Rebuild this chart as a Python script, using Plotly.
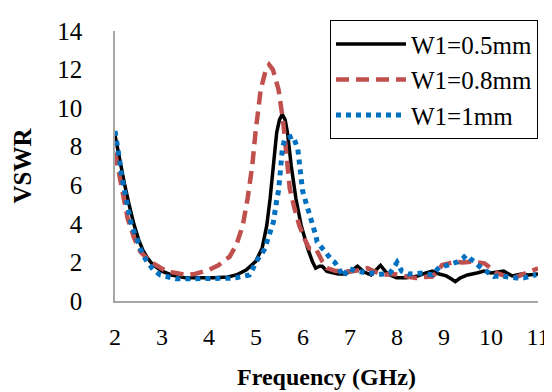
import plotly.graph_objects as go

# W1 = 0.5 mm (black solid)
f_05 = [2.0, 2.1, 2.2, 2.3, 2.4, 2.5, 2.6, 2.7, 2.8, 3.0, 3.2, 3.5, 3.8, 4.1, 4.4, 4.58, 4.79, 4.99,
        5.13, 5.23, 5.30, 5.37, 5.44, 5.50, 5.56, 5.62, 5.67, 5.75, 5.85, 5.96, 6.10, 6.20, 6.27,
        6.35, 6.41, 6.51, 6.6, 6.75, 6.9, 7.05, 7.16, 7.3, 7.45, 7.55, 7.65, 7.8, 7.99, 8.2, 8.45,
        8.6, 8.75, 8.9, 9.05, 9.15, 9.24, 9.35, 9.5, 9.7, 9.85, 10.0, 10.15, 10.27, 10.45, 10.65,
        10.8, 11.0]
v_05 = [8.6, 7.3, 6.1, 5.0, 4.0, 3.2, 2.6, 2.2, 1.9, 1.55, 1.35, 1.2, 1.2, 1.2, 1.25, 1.35, 1.61, 2.04,
        2.73, 3.93, 5.3, 7.0, 8.73, 9.4, 9.68, 9.4, 8.73, 7.0, 5.3, 3.93, 2.73, 2.04, 1.7,
        1.8, 1.8, 1.54, 1.5, 1.4, 1.4, 1.6, 1.8, 1.5, 1.35, 1.6, 1.85, 1.4, 1.2, 1.2, 1.3,
        1.45, 1.55, 1.4, 1.3, 1.15, 1.0, 1.2, 1.35, 1.45, 1.55, 1.45, 1.5, 1.55, 1.3, 1.4,
        1.35, 1.4]

# W1 = 0.8 mm (red dashed)
f_08 = [2.0, 2.1, 2.17, 2.27, 2.41, 2.54, 2.75, 2.96, 3.1, 3.3, 3.5, 3.7, 3.85, 4.0, 4.2, 4.44, 4.58,
        4.72, 4.82, 4.92, 4.99, 5.10, 5.20, 5.28, 5.36, 5.48, 5.58, 5.65, 5.72, 5.82, 5.92, 6.03,
        6.13, 6.27, 6.41, 6.51, 6.6, 6.7, 6.85, 7.02, 7.2, 7.37, 7.55, 7.72, 7.9, 8.06, 8.25, 8.4,
        8.6, 8.75, 8.85, 8.96, 9.1, 9.24, 9.4, 9.58, 9.72, 9.86, 10.0, 10.13, 10.3, 10.48, 10.6,
        10.75, 10.9, 11.0]
v_08 = [7.7, 6.5, 5.47, 4.27, 3.24, 2.56, 2.04, 1.7, 1.53, 1.45, 1.35, 1.4, 1.5, 1.62, 1.85, 2.3, 2.9,
        3.93, 5.3, 7.0, 8.75, 10.96, 11.9, 12.25, 12.0, 10.96, 9.26, 7.53, 5.8, 4.8, 3.93, 3.24,
        2.73, 2.73, 2.05, 1.7, 1.6, 1.55, 1.55, 1.53, 1.6, 1.7, 1.5, 1.36, 1.4, 1.36, 1.25, 1.19,
        1.25, 1.27, 1.5, 1.87, 1.95, 2.04, 2.0, 2.04, 2.0, 1.95, 1.7, 1.44, 1.3, 1.19, 1.3,
        1.44, 1.55, 1.7]

# W1 = 1 mm (blue dotted)
f_10 = [2.0, 2.06, 2.10, 2.14, 2.19, 2.25, 2.28, 2.35, 2.49, 2.58, 2.68, 2.82, 2.96, 3.16, 3.3, 3.5,
        3.7, 3.9, 4.1, 4.3, 4.44, 4.6, 4.86, 5.03, 5.17, 5.27, 5.37, 5.44, 5.48, 5.51, 5.54, 5.56,
        5.61, 5.72, 5.79, 5.89, 5.92, 5.96, 5.99, 6.06, 6.13, 6.20, 6.27, 6.30, 6.41, 6.48, 6.55,
        6.62, 6.68, 6.75, 6.86, 6.96, 7.06, 7.16, 7.27, 7.37, 7.48, 7.58, 7.7, 7.85, 8.0, 8.1,
        8.25, 8.4, 8.55, 8.75, 8.9, 9.1, 9.3, 9.4, 9.47, 9.55, 9.65, 9.75, 9.85, 9.95, 10.06,
        10.2, 10.35, 10.55, 10.7, 10.82, 10.96]
v_10 = [8.82, 8.04, 7.27, 6.5, 5.9, 5.21, 4.7, 3.93, 3.07, 2.47, 2.04, 1.61, 1.35, 1.2, 1.15, 1.15,
        1.15, 1.2, 1.15, 1.15, 1.18, 1.22, 1.35, 2.13, 2.64, 3.33, 4.1, 5.21, 5.73, 6.5, 7.19, 7.87,
        8.39, 8.47, 8.56, 7.87, 7.0, 6.42, 5.73, 5.13, 4.62, 4.1, 3.41, 3.07, 2.73, 2.55, 2.4,
        2.1, 2.0, 1.7, 1.27, 1.7, 1.6, 1.53, 1.5, 1.44, 1.45, 1.36, 1.4, 1.45, 2.0, 1.55,
        1.4, 1.45, 1.45, 1.36, 1.75, 1.87, 2.04, 2.2, 2.38, 2.2, 2.04, 1.8, 1.61, 1.4, 1.27,
        1.3, 1.25, 1.19, 1.2, 1.27, 1.36]

labels = ["W1=0.5mm", "W1=0.8mm", "W1=1mm"]
x_ticks = [2, 3, 4, 5, 6, 7, 8, 9, 10, 11]
y_ticks = [0, 2, 4, 6, 8, 10, 12, 14]

serif = "Liberation Serif"

fig = go.Figure()
fig.add_trace(go.Scatter(x=f_05, y=v_05, mode="lines", name=labels[0],
                         line=dict(color="#000000", width=3.5)))
fig.add_trace(go.Scatter(x=f_08, y=v_08, mode="lines", name=labels[1],
                         line=dict(color="#C0504D", width=4.5, dash="13px,7px")))
fig.add_trace(go.Scatter(x=f_10, y=v_10, mode="lines", name=labels[2],
                         line=dict(color="#0070C0", width=5, dash="5px,5px")))

fig.update_layout(
    width=552, height=392,
    margin=dict(l=107, r=10, t=21, b=99),
    paper_bgcolor="white", plot_bgcolor="white",
    font=dict(family=serif, size=24, color="black"),
    showlegend=True,
    legend=dict(x=1.0, y=1.04, xanchor="right", yanchor="top",
                bgcolor="white", bordercolor="black", borderwidth=1,
                font=dict(family=serif, size=25, color="black"),
                itemwidth=70, tracegroupgap=0),
    xaxis=dict(range=[2, 11], tickvals=x_ticks, ticktext=[str(t) for t in x_ticks],
               showgrid=False, zeroline=False, showline=True, linecolor="#A6A6A6",
               linewidth=1.5, ticks="", ticklen=0, ticklabelstandoff=13,
               ticklabeloverflow="allow",
               tickfont=dict(family=serif, size=24),
               title=dict(text="<b>Frequency (GHz)</b>", standoff=20,
                          font=dict(family=serif, size=24))),
    yaxis=dict(range=[0, 14], tickvals=y_ticks, ticktext=[str(t) for t in y_ticks],
               showgrid=False, zeroline=False, showline=True, linecolor="#A6A6A6",
               linewidth=1.5, ticks="", ticklen=0, ticklabelstandoff=26,
               tickfont=dict(family=serif, size=25),
               title=dict(text="<b>VSWR</b>", standoff=19,
                          font=dict(family=serif, size=25))),
)

fig.write_html("out.html")
